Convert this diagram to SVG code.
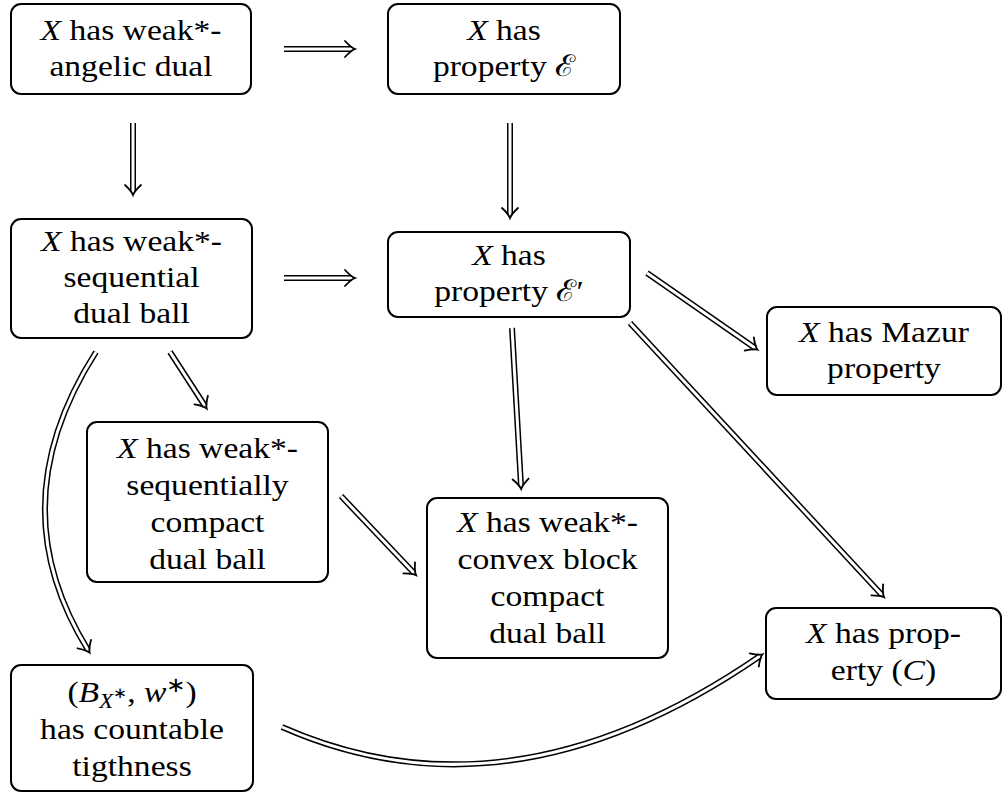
<svg xmlns="http://www.w3.org/2000/svg" width="1003" height="793" viewBox="0 0 1003 793">
<style>
.box{fill:#fff;stroke:#000;stroke-width:2}
.t{font-family:"Liberation Serif","Times New Roman",serif;font-size:30px;text-anchor:middle;fill:#000}
.i{font-style:italic}
.ao{fill:none;stroke:#000;stroke-width:6}
.ai{fill:none;stroke:#fff;stroke-width:3;marker-end:url(#imp)}
</style>
<defs>
<marker id="imp" markerUnits="userSpaceOnUse" viewBox="-12 -10 14 20" markerWidth="14" markerHeight="20" refX="-3" refY="0" orient="auto" overflow="visible">
<path d="M-10,-8 Q-4,-1.5 0,0 Q-4,1.5 -10,8" fill="none" stroke="#000" stroke-width="1.8" stroke-linecap="round"/>
</marker>
</defs>
<rect width="1003" height="793" fill="#fff"/>

<g id="connectors">
<path class="ao" d="M284,49 H352"/><path class="ai" d="M284,49 H352"/>
<path class="ao" d="M133,123 V192"/><path class="ai" d="M133,123 V192"/>
<path class="ao" d="M510,123 V215"/><path class="ai" d="M510,123 V215"/>
<path class="ao" d="M284,278 H352"/><path class="ai" d="M284,278 H352"/>
<path class="ao" d="M647,273 L755,348"/><path class="ai" d="M647,273 L755,348"/>
<path class="ao" d="M512,328 L521,486"/><path class="ai" d="M512,328 L521,486"/>
<path class="ao" d="M630,323 L882,595"/><path class="ai" d="M630,323 L882,595"/>
<path class="ao" d="M170,352 L205,406"/><path class="ai" d="M170,352 L205,406"/>
<path class="ao" d="M96,352 Q-2,505 88,650"/><path class="ai" d="M96,352 Q-2,505 88,650"/>
<path class="ao" d="M341,496 L414,573"/><path class="ai" d="M341,496 L414,573"/>
<path class="ao" d="M282,727 Q510,828 760,656"/><path class="ai" d="M282,727 Q510,828 760,656"/>
</g>

<g id="n1"><rect class="box" x="11" y="4" width="240" height="90" rx="10"/>
<g transform="translate(131,0) scale(1.12,1)">
<text class="t" x="0" y="40"><tspan class="i">X</tspan> has weak*-</text>
<text class="t" x="0" y="76">angelic dual</text></g></g>

<g id="n2"><rect class="box" x="388" y="4" width="232" height="90" rx="10"/>
<g transform="translate(504,0) scale(1.12,1)">
<text class="t" x="0" y="40"><tspan class="i">X</tspan> has</text>
<text class="t" x="0" y="76">property ℰ</text></g></g>

<g id="n3"><rect class="box" x="11" y="219" width="241" height="119" rx="10"/>
<g transform="translate(131.5,0) scale(1.12,1)">
<text class="t" x="0" y="251.5"><tspan class="i">X</tspan> has weak*-</text>
<text class="t" x="0" y="287.5">sequential</text>
<text class="t" x="0" y="323.5">dual ball</text></g></g>

<g id="n4"><rect class="box" x="388" y="232" width="242" height="85" rx="10"/>
<g transform="translate(509,0) scale(1.12,1)">
<text class="t" x="0" y="265.5"><tspan class="i">X</tspan> has</text>
<text class="t" x="0" y="301.5">property ℰ′</text></g></g>

<g id="n5"><rect class="box" x="767" y="307" width="234" height="88" rx="10"/>
<g transform="translate(884,0) scale(1.12,1)">
<text class="t" x="0" y="342"><tspan class="i">X</tspan> has Mazur</text>
<text class="t" x="0" y="378">property</text></g></g>

<g id="n6"><rect class="box" x="87" y="422" width="241" height="160" rx="10"/>
<g transform="translate(207.5,0) scale(1.12,1)">
<text class="t" x="0" y="458"><tspan class="i">X</tspan> has weak*-</text>
<text class="t" x="0" y="495">sequentially</text>
<text class="t" x="0" y="532">compact</text>
<text class="t" x="0" y="569">dual ball</text></g></g>

<g id="n7"><rect class="box" x="427" y="498" width="241" height="160" rx="10"/>
<g transform="translate(547.5,0) scale(1.12,1)">
<text class="t" x="0" y="532"><tspan class="i">X</tspan> has weak*-</text>
<text class="t" x="0" y="569">convex block</text>
<text class="t" x="0" y="606">compact</text>
<text class="t" x="0" y="643">dual ball</text></g></g>

<g id="n8"><rect class="box" x="766" y="608" width="235" height="91" rx="10"/>
<g transform="translate(883.5,0) scale(1.12,1)">
<text class="t" x="0" y="643"><tspan class="i">X</tspan> has prop-</text>
<text class="t" x="0" y="680">erty (<tspan class="i">C</tspan>)</text></g></g>

<g id="n9"><rect class="box" x="11" y="665" width="242" height="126" rx="10"/>
<g transform="translate(132,0) scale(1.12,1)">
<text class="t" x="0" y="702">(<tspan class="i">B</tspan><tspan class="i" font-size="21" dy="6">X</tspan><tspan font-size="15" dy="-10">∗</tspan><tspan dy="4">, </tspan><tspan class="i">w</tspan><tspan font-size="21" dy="-10">∗</tspan><tspan dy="10">)</tspan></text>
<text class="t" x="0" y="739">has countable</text>
<text class="t" x="0" y="776">tigthness</text></g></g>
</svg>
